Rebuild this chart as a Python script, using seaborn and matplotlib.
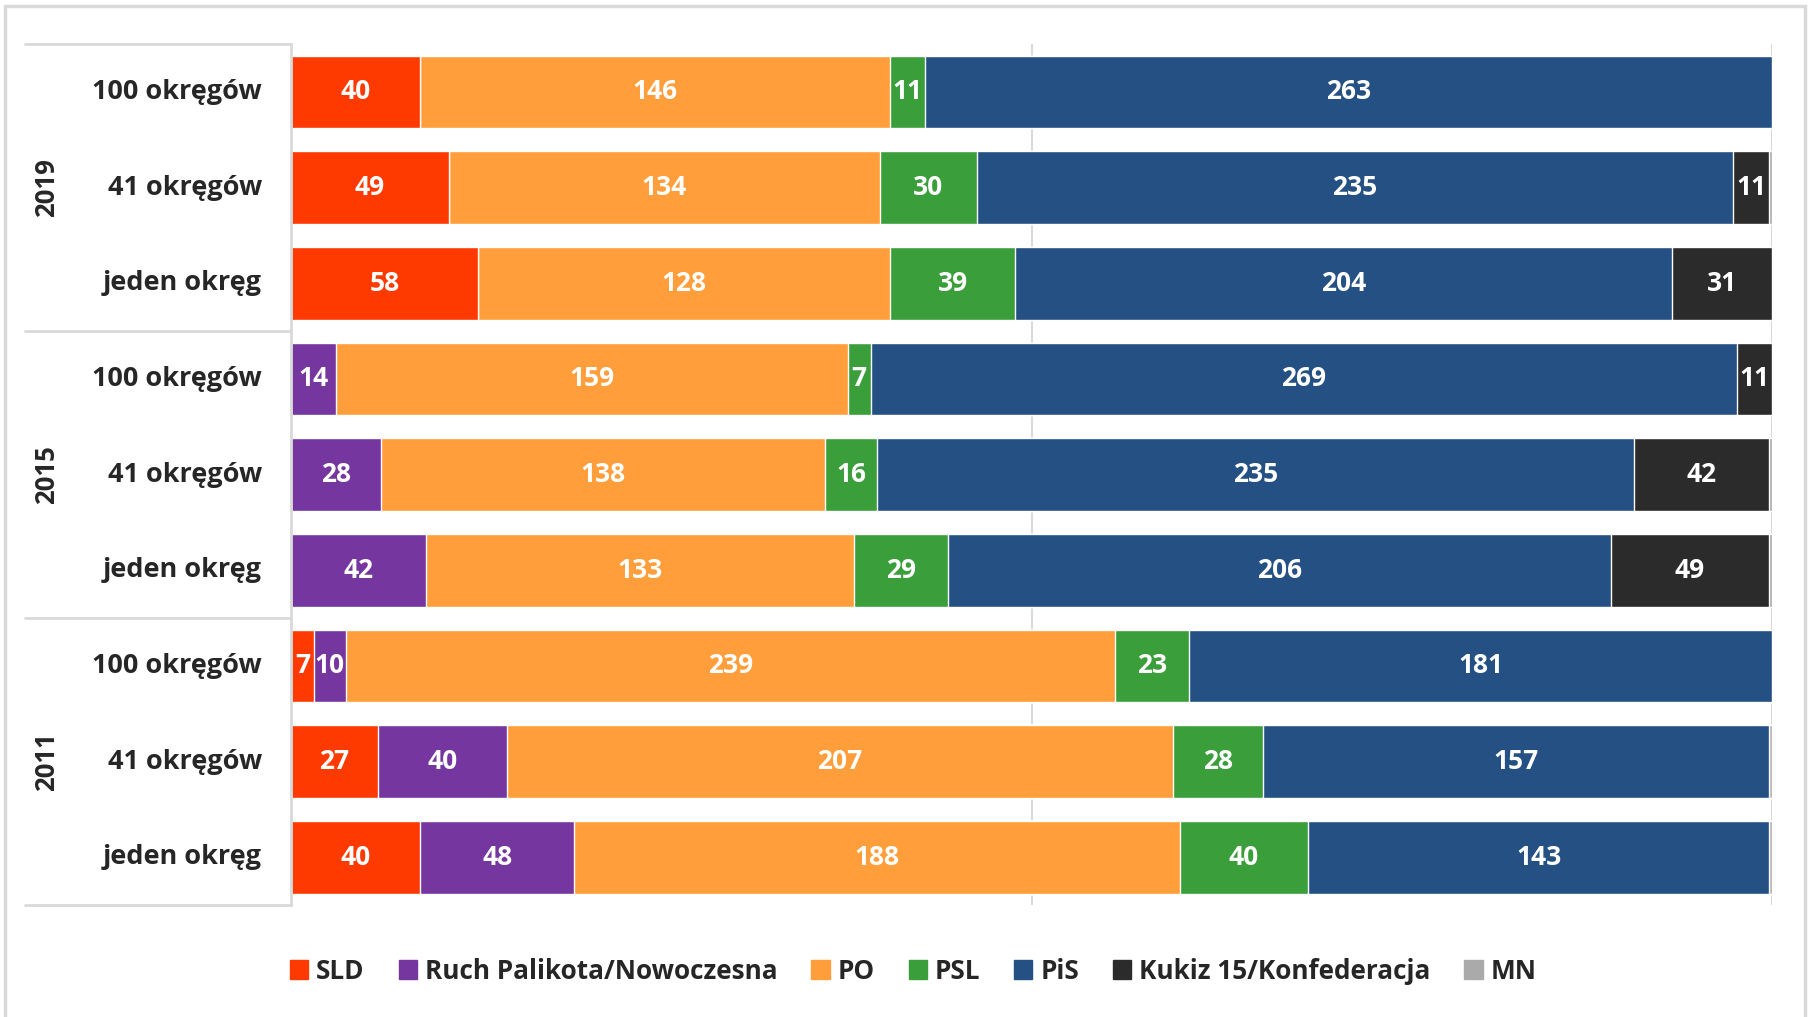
import numpy as np
import pandas as pd
import matplotlib.pyplot as plt
import matplotlib.patches as mpatches
import seaborn as sns

# dane: mandaty wg wariantu okręgów
lata = ["2019", "2015", "2011"]
warianty = ["100 okręgów", "41 okręgów", "jeden okręg"]
partie = ["SLD", "Ruch Palikota/Nowoczesna", "PO", "PSL", "PiS", "Kukiz 15/Konfederacja", "MN"]
kolory = ["#FF3A00", "#7636A0", "#FF9E3A", "#3A9E3A", "#245083", "#2B2B2B", "#AAAAAA"]

sld = [40, 49, 58, 0, 0, 0, 7, 27, 40]
ruch = [0, 0, 0, 14, 28, 42, 10, 40, 48]
po = [146, 134, 128, 159, 138, 133, 239, 207, 188]
psl = [11, 30, 39, 7, 16, 29, 23, 28, 40]
pis = [263, 235, 204, 269, 235, 206, 181, 157, 143]
kukiz = [0, 11, 31, 11, 42, 49, 0, 0, 0]
mn = [0, 1, 0, 0, 1, 1, 0, 1, 1]

wiersze = [f"{r} {w}" for r in lata for w in warianty]
df = pd.DataFrame({"wiersz": wiersze, "SLD": sld, "Ruch Palikota/Nowoczesna": ruch,
                   "PO": po, "PSL": psl, "PiS": pis, "Kukiz 15/Konfederacja": kukiz, "MN": mn})

sns.set_style("white")
plt.rcParams["font.family"] = ["Open Sans", "DejaVu Sans"]

fig = plt.figure(figsize=(18.1, 10.17), dpi=100)
ax = fig.add_axes([0.1608, 0.1101, 0.8182, 0.8466])

# ramka wykresu
fig.patches.append(mpatches.Rectangle((0.003, -0.05), 0.994, 1.044, transform=fig.transFigure,
                                      fill=False, edgecolor="#D9D9D9", linewidth=2.5))

# słupki skumulowane - rysujemy od końca
skum = df[partie].cumsum(axis=1)
for i in range(len(partie) - 1, -1, -1):
    sns.barplot(x=skum[partie[i]], y=df["wiersz"], color=kolory[i], orient="h",
                width=0.76, saturation=1, errorbar=None, ax=ax, zorder=2)

# etykiety wartości
for r in range(len(df)):
    lewo = 0
    for p in partie:
        v = df[p].iloc[r]
        if v > 0 and p != "MN":
            ax.text(lewo + v / 2, r, str(v), ha="center", va="center", color="white",
                    fontsize=19, fontweight="bold", zorder=5)
        lewo += v

ax.set_xlim(0, 460)
ax.set_ylim(8.5, -0.5)
ax.set_xticks([0, 230, 460])
ax.grid(axis="x", color="#D9D9D9", linewidth=1.5, zorder=0)
ax.set_axisbelow(True)
ax.tick_params(left=False, bottom=False, labelbottom=False, labelleft=False)
ax.set_xlabel("")
ax.set_ylabel("")
for s in ["top", "right", "bottom"]:
    ax.spines[s].set_visible(False)
ax.spines["left"].set_color("#D9D9D9")
ax.spines["left"].set_linewidth(2)

# tabela etykiet po lewej
tr = ax.get_yaxis_transform()
for k in range(4):
    ax.plot([-0.1796, 0], [k * 3 - 0.5, k * 3 - 0.5], transform=tr, color="#D9D9D9",
            linewidth=2, clip_on=False)
for g, rok in enumerate(lata):
    ax.text(-0.1654, g * 3 + 1, rok, rotation=90, ha="center", va="center", transform=tr,
            fontsize=18.5, fontweight="bold")
    for j, w in enumerate(warianty):
        ax.text(-0.0196, g * 3 + j, w, ha="right", va="center", transform=tr,
                fontsize=19.5, fontweight="bold")

# legenda
uchwyty = [mpatches.Patch(color=c, label=p) for p, c in zip(partie, kolory)]
fig.legend(handles=uchwyty, loc="center", bbox_to_anchor=(0.5046, 0.045), ncol=7,
           frameon=False, handlelength=0.7, handleheight=0.7, handletextpad=0.3,
           columnspacing=1.3, prop={"size": 18.8, "weight": "bold"})

plt.savefig("out.png", dpi=100)
